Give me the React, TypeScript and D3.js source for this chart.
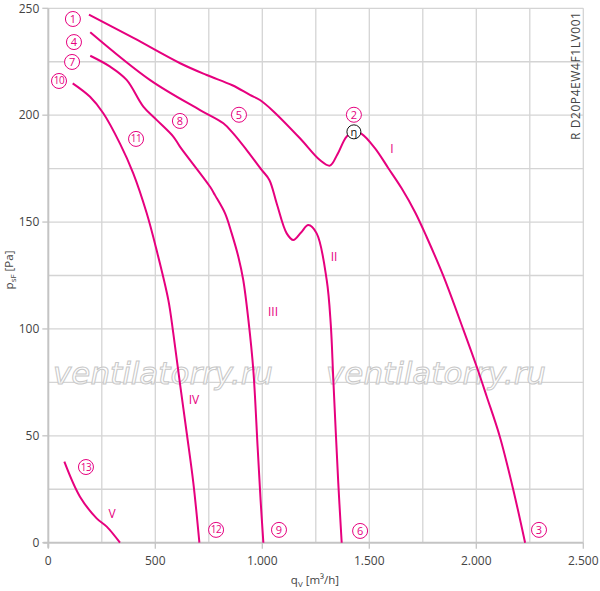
import { useMemo } from "react"
import * as d3 from "d3"

// curve data: [q_V m³/h, p_sF Pa]
const curveI: [number, number][] = [
  [190, 247], [400, 236], [616, 224.3], [740, 218.8], [860, 214], [942, 209.5], [989, 207.1],
  [1050, 202], [1176, 189.2], [1269, 179], [1316, 176.4], [1350, 181.5], [1394, 190],
  [1429, 192.2], [1464, 191.3], [1527, 184.5], [1589, 175.2], [1651, 165.8], [1714, 154.6],
  [1768, 143], [1846, 124.8], [1939, 99.8], [2002, 82.3], [2049, 68.3], [2110, 49.6],
  [2173, 24.7], [2228, 0],
]
const curveII: [number, number][] = [
  [196, 238.8], [476, 216.4], [709, 202.4], [818, 196.2], [864, 191.5], [927, 183.7],
  [997, 174.4], [1033, 169.7], [1067, 158.8], [1114, 144.7], [1145, 141.6], [1180, 145],
  [1215, 148.6], [1254, 144.7], [1301, 122.9], [1320, 102], [1332, 76], [1355, 28], [1371, 0],
]
const curveIII: [number, number][] = [
  [196, 227.8], [289, 222.7], [366, 216.5], [444, 204], [506, 197.8], [584, 190], [615, 185.3],
  [756, 166.5], [779, 162.6], [826, 154.1], [857, 144.7], [888, 133.8], [911, 122.9],
  [935, 104.2], [958, 80.8], [978, 45], [992, 20], [1005, 0],
]
const curveIV: [number, number][] = [
  [114, 214.9], [195, 208.6], [257, 200.9], [335, 186.7], [397, 172.8], [460, 154.1],
  [506, 136.9], [561, 113.5], [584, 98], [615, 74.6], [647, 51.2], [678, 27.8], [706, 0],
]
const curveV: [number, number][] = [
  [75, 37.9], [148, 21.5], [226, 11.4], [273, 7.5], [335, 0],
]
const curves = [curveI, curveII, curveIII, curveIV, curveV]

// circled operating-point labels
const circleLabels: [string, number, number][] = [
  ["1", 115, 245], ["4", 120, 234.2], ["7", 111, 224.9], ["10", 50, 216],
  ["11", 410, 188.9], ["8", 615, 197.3], ["5", 891, 200.2], ["2", 1428, 200.2],
  ["13", 176, 35.4], ["12", 784, 6], ["9", 1078, 6], ["6", 1457, 5.5], ["3", 2293, 6],
]
const romanLabels: [string, number, number][] = [
  ["I", 1606, 185.1], ["II", 1335, 134.6], ["III", 1050, 108.9], ["IV", 681, 67.7], ["V", 298, 14.4],
]
const etaPoint: [number, number] = [1428, 192.2]

const xTicks = [0, 500, 1000, 1500, 2000, 2500]
const xTickLabels = ["0", "500", "1.000", "1.500", "2.000", "2.500"]
const yTicks = [0, 50, 100, 150, 200, 250]

const W = 600
const H = 591
const PINK = "#e6007e"
const FONT = "'Open Sans', 'Noto Sans', sans-serif"

export default function App() {
  const x = useMemo(() => d3.scaleLinear().domain([0, 2500]).range([48.3, 583.3]), [])
  const y = useMemo(() => d3.scaleLinear().domain([0, 250]).range([542.7, 8.3]), [])

  const line = d3
    .line<[number, number]>()
    .x((d) => x(d[0]))
    .y((d) => y(d[1]))
    .curve(d3.curveCatmullRom.alpha(0.5))

  const gridX = d3.range(250, 2501, 250)
  const gridY = d3.range(25, 251, 25)

  return (
    <svg
      width={W}
      height={H}
      style={{ position: "absolute", left: 0, top: 0, background: "#fff" }}
      fontFamily={FONT}
    >
      {/* grid */}
      {gridX.map((v) => (
        <line key={"gx" + v} x1={x(v)} x2={x(v)} y1={y(0)} y2={y(250)} stroke="#d4d4d4" strokeWidth={1.3} />
      ))}
      {gridY.map((v) => (
        <line key={"gy" + v} x1={x(0)} x2={x(2500)} y1={y(v)} y2={y(v)} stroke="#d4d4d4" strokeWidth={1.3} />
      ))}

      {/* axes */}
      <line x1={x(0)} x2={x(0)} y1={y(0) + 5} y2={y(250)} stroke="#c4c4c4" strokeWidth={2} />
      <line x1={x(0) - 5} x2={x(2500)} y1={y(0)} y2={y(0)} stroke="#c4c4c4" strokeWidth={2} />
      {yTicks.map((v) => (
        <g key={"yt" + v}>
          <line x1={x(0) - 6} x2={x(0)} y1={y(v)} y2={y(v)} stroke="#c4c4c4" strokeWidth={1.3} />
          <text x={x(0) - 9} y={y(v)} dy="0.35em" textAnchor="end" fontSize={12} fill="#444">
            {v}
          </text>
        </g>
      ))}
      {xTicks.map((v, i) => (
        <g key={"xt" + v}>
          <line x1={x(v)} x2={x(v)} y1={y(0)} y2={y(0) + 6} stroke="#c4c4c4" strokeWidth={1.3} />
          <text x={x(v)} y={y(0) + 22} textAnchor="middle" fontSize={12} fill="#444">
            {xTickLabels[i]}
          </text>
        </g>
      ))}

      {/* axis titles */}
      <text x={315} y={584} textAnchor="middle" fontSize={11.5} fill="#444">
        q<tspan fontSize={8} dy={3}>V</tspan>
        <tspan dy={-3}> [m³/h]</tspan>
      </text>
      <text transform="translate(13,270) rotate(-90)" textAnchor="middle" fontSize={11.5} fill="#444">
        p<tspan fontSize={8} dy={3}>sF</tspan>
        <tspan dy={-3}> [Pa]</tspan>
      </text>
      <text
        transform="translate(580,140) rotate(-90)"
        fontSize={12}
        fill="#444"
        textLength={128}
        lengthAdjust="spacing"
      >
        R D20P4EW4F1LV001
      </text>

      {/* watermark */}
      {[53, 326].map((wx) => (
        <text
          key={"wm" + wx}
          x={wx}
          y={384}
          fontSize={30}
          fontStyle="italic"
          fill="#fff"
          fillOpacity={0.7}
          stroke="#c8c8c8"
          strokeWidth={1}
          textLength={220}
          lengthAdjust="spacingAndGlyphs"
          fontFamily="'DejaVu Sans', sans-serif"
        >
          ventilatorry.ru
        </text>
      ))}

      {/* curves */}
      {curves.map((c, i) => (
        <path key={"c" + i} d={line(c) ?? ""} fill="none" stroke={PINK} strokeWidth={2} />
      ))}

      {/* efficiency marker */}
      <circle cx={x(etaPoint[0])} cy={y(etaPoint[1])} r={7} fill="#fff" stroke="#111" strokeWidth={1} />
      <text x={x(etaPoint[0])} y={y(etaPoint[1])} dy="0.35em" textAnchor="middle" fontSize={11} fill="#111">
        η
      </text>

      {/* labels */}
      {circleLabels.map(([t, lx, ly]) => (
        <g key={"cl" + t}>
          <circle cx={x(lx)} cy={y(ly)} r={7.5} fill="#fff" stroke={PINK} strokeWidth={1} />
          <text
            x={x(lx)}
            y={y(ly)}
            dy="0.35em"
            textAnchor="middle"
            fontSize={t.length > 1 ? 10 : 11}
            fill={PINK}
            letterSpacing={t.length > 1 ? -0.5 : 0}
          >
            {t}
          </text>
        </g>
      ))}
      {romanLabels.map(([t, lx, ly]) => (
        <text key={"rl" + t} x={x(lx)} y={y(ly) + 2} dy="0.35em" textAnchor="middle" fontSize={12} fill={PINK}>
          {t}
        </text>
      ))}
    </svg>
  )
}
